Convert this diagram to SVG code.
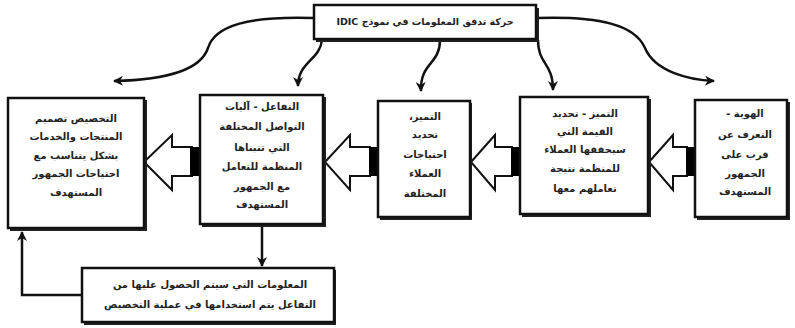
<svg xmlns="http://www.w3.org/2000/svg" width="795" height="328" viewBox="0 0 795 328">
<defs>
<style>
.box{fill:#fff;stroke:#111;stroke-width:2.5}
.sh{fill:#222}
.t{font-family:"DejaVu Sans",sans-serif;font-size:10px;font-weight:bold;fill:#222;text-anchor:middle;direction:rtl}
.tt{font-size:9.5px}
.c{fill:none;stroke:#111;stroke-width:2.5}
.blk{fill:#fff;stroke:#111;stroke-width:2}
</style>
<marker id="ah" viewBox="0 0 10 10" refX="9" refY="5" markerWidth="4" markerHeight="4" orient="auto" markerUnits="strokeWidth">
<path d="M0,0 L10,5 L0,10 L3,5 Z" fill="#111"/>
</marker>
</defs>
<rect width="795" height="328" fill="#fff"/>

<g id="connectors">
<path class="c" d="M313,18 C250,16 215,25 208,48 C200,72 160,80 114,81" marker-end="url(#ah)"/>
<path class="c" d="M322,40 C320,60 298,62 298,86" marker-end="url(#ah)"/>
<path class="c" d="M440,40 C440,65 420,62 421,91" marker-end="url(#ah)"/>
<path class="c" d="M538,40 C538,65 553,62 553,90" marker-end="url(#ah)"/>
<path class="c" d="M537,18 C600,16 635,25 645,48 C655,72 690,80 714,81" marker-end="url(#ah)"/>
<path class="c" d="M262,227 L262,266" marker-end="url(#ah)"/>
<path class="c" d="M82,295 L22,295 L22,232" marker-end="url(#ah)"/>
<g id="blk1"><path class="blk" d="M144,162 L172,135 L172,147 L192,147 L192,176 L172,176 L172,190 Z"/><rect x="190" y="147" width="9" height="29" fill="#000"/></g>
<g id="blk2"><path class="blk" d="M325,162 L350,135 L350,147 L370,147 L370,176 L350,176 L350,190 Z"/><rect x="369" y="147" width="9" height="29" fill="#000"/></g>
<g id="blk3"><path class="blk" d="M471,162 L495,135 L495,147 L512,147 L512,176 L495,176 L495,190 Z"/><rect x="511" y="147" width="9" height="29" fill="#000"/></g>
<g id="blk4"><path class="blk" d="M649,162 L673,135 L673,147 L687,147 L687,176 L673,176 L673,190 Z"/><rect x="686" y="147" width="9" height="29" fill="#000"/></g>
</g>

<g id="top">
<rect class="sh" x="316" y="8" width="223" height="34"/>
<rect class="box" x="314" y="5" width="222" height="34"/>
<text class="t tt" x="425" y="25">حركة تدفق المعلومات في نموذج IDIC</text>
</g>

<g id="n5">
<rect class="sh" x="10" y="100" width="137" height="131"/>
<rect class="box" x="8" y="98" width="136" height="130"/>
<text class="t" x="76" y="122">التخصيص تصميم</text>
<text class="t" x="76" y="140">المنتجات والخدمات</text>
<text class="t" x="76" y="159">بشكل يتناسب مع</text>
<text class="t" x="76" y="177">احتياجات الجمهور</text>
<text class="t" x="76" y="196">المستهدف</text>
</g>

<g id="n4">
<rect class="sh" x="202" y="97" width="124" height="130"/>
<rect class="box" x="200" y="95" width="123" height="129"/>
<text class="t" x="262" y="110">التفاعل - آليات</text>
<text class="t" x="262" y="130">التواصل المختلفة</text>
<text class="t" x="262" y="151">التي تتبناها</text>
<text class="t" x="262" y="170">المنظمة للتعامل</text>
<text class="t" x="262" y="190">مع الجمهور</text>
<text class="t" x="262" y="208">المستهدف</text>
</g>

<g id="n3">
<rect class="sh" x="380" y="103" width="92" height="117"/>
<rect class="box" x="378" y="101" width="92" height="116"/>
<text class="t" x="425" y="120">التميز،</text>
<text class="t" x="425" y="138">تحديد</text>
<text class="t" x="425" y="158">احتياجات</text>
<text class="t" x="425" y="177">العملاء</text>
<text class="t" x="425" y="197">المختلفة</text>
</g>

<g id="n2">
<rect class="sh" x="522" y="99" width="129" height="118"/>
<rect class="box" x="520" y="97" width="128" height="117"/>
<text class="t" x="585" y="117">التميز - تحديد</text>
<text class="t" x="585" y="135">القيمة التي</text>
<text class="t" x="585" y="153">سيحققها العملاء</text>
<text class="t" x="585" y="172">للمنظمة نتيجة</text>
<text class="t" x="585" y="192">تعاملهم معها</text>
</g>

<g id="n1">
<rect class="sh" x="697" y="102" width="93" height="118"/>
<rect class="box" x="695" y="100" width="92" height="117"/>
<text class="t" x="745" y="117">الهوية -</text>
<text class="t" x="745" y="138">التعرف عن</text>
<text class="t" x="745" y="158">قرب على</text>
<text class="t" x="745" y="177">الجمهور</text>
<text class="t" x="745" y="195">المستهدف</text>
</g>

<g id="bottom">
<rect class="sh" x="84" y="270" width="252" height="55"/>
<rect class="box" x="82" y="268" width="252" height="54"/>
<text class="t" x="210" y="288">المعلومات التي سيتم الحصول عليها من</text>
<text class="t" x="210" y="308">التفاعل يتم استخدامها في عملية التخصيص</text>
</g>
</svg>
